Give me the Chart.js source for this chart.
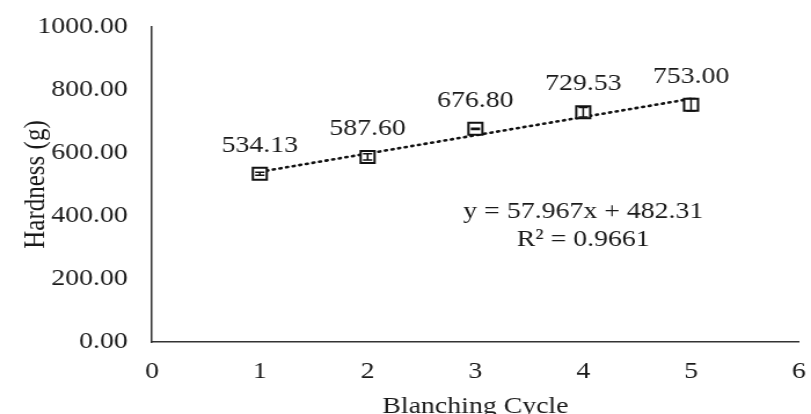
<!DOCTYPE html>
<html lang="en">
<head>
    <meta charset="UTF-8">
    <title>Hardness vs Blanching Cycle</title>
    <script src="https://cdn.jsdelivr.net/npm/chart.js"></script>
    <style>
        html, body { margin: 0; padding: 0; background: #fff; overflow: hidden; }
        #wrap { width: 811px; height: 414px; overflow: hidden; }
        /* the source figure is stretched horizontally, so draw narrower and scale up */
        #hardnessChart { transform-origin: 0 0; transform: scaleX(1.1586); }
    </style>
</head>
<body>
    <div id="wrap"><canvas id="hardnessChart" width="700" height="414"></canvas></div>
    <script>
        // Data
        const cycles = [1, 2, 3, 4, 5];
        const hardness = [534.13, 587.60, 676.80, 729.53, 753.00];
        const errors = [5, 10, 2, 15, 20];
        // Linear trendline endpoints (y = 57.967x + 482.31)
        const trendX = [1, 5];
        const trendY = [540.28, 772.15];
        const equationLines = ['y = 57.967x + 482.31', 'R\u00b2 = 0.9661'];

        const textColor = '#1a1a1a';
        const serif = "'Liberation Serif', 'Times New Roman', serif";

        // error bars + value labels + equation
        const extrasPlugin = {
            id: 'extras',
            afterDatasetsDraw(chart) {
                const ctx = chart.ctx;
                const xs = chart.scales.x, ys = chart.scales.y;
                ctx.save();
                ctx.strokeStyle = '#111';
                ctx.lineWidth = 1.5;
                cycles.forEach((c, i) => {
                    const px = xs.getPixelForValue(c);
                    const top = ys.getPixelForValue(hardness[i] + errors[i]);
                    const bot = ys.getPixelForValue(hardness[i] - errors[i]);
                    ctx.beginPath();
                    ctx.moveTo(px, top); ctx.lineTo(px, bot);
                    ctx.moveTo(px - 4, top); ctx.lineTo(px + 4, top);
                    ctx.moveTo(px - 4, bot); ctx.lineTo(px + 4, bot);
                    ctx.stroke();
                });
                ctx.fillStyle = textColor;
                ctx.font = '24px ' + serif;
                ctx.textAlign = 'center';
                ctx.textBaseline = 'middle';
                cycles.forEach((c, i) => {
                    const px = xs.getPixelForValue(c);
                    const py = ys.getPixelForValue(hardness[i]);
                    ctx.fillText(hardness[i].toFixed(2), px, py - 28);
                });
                const ex = xs.getPixelForValue(4);
                ctx.fillText(equationLines[0], ex, ys.getPixelForValue(413));
                ctx.fillText(equationLines[1], ex, ys.getPixelForValue(324));
                ctx.restore();
            }
        };

        const ctx = document.getElementById('hardnessChart').getContext('2d');
        const hardnessChart = new Chart(ctx, {
            type: 'scatter',
            data: {
                datasets: [{
                    label: 'Hardness',
                    data: cycles.map((c, i) => ({ x: c, y: hardness[i] })),
                    pointStyle: 'rect',
                    pointRadius: 8.5,
                    pointBorderWidth: 2,
                    pointBackgroundColor: '#fff',
                    pointBorderColor: '#111',
                    order: 0
                }, {
                    label: 'Trend',
                    type: 'line',
                    data: trendX.map((x, i) => ({ x: x, y: trendY[i] })),
                    borderColor: '#111',
                    borderWidth: 2.6,
                    borderDash: [1.5, 4.3],
                    borderCapStyle: 'round',
                    pointRadius: 0,
                    fill: false,
                    order: 1
                }]
            },
            options: {
                responsive: false,
                animation: false,
                layout: { padding: { top: 27, right: 8.6, left: 0, bottom: 0 } },
                plugins: {
                    legend: { display: false },
                    tooltip: { enabled: false }
                },
                scales: {
                    x: {
                        type: 'linear',
                        min: 0, max: 6,
                        ticks: { stepSize: 1, padding: 15, color: textColor, font: { family: serif, size: 24 } },
                        grid: { display: false, drawTicks: false },
                        border: { display: true, color: '#333', width: 1.5 },
                        title: { display: true, text: 'Blanching Cycle', color: textColor, font: { family: serif, size: 24, lineHeight: 0.6 }, padding: 0 },
                        afterFit(scale) { scale.height = 72; scale.paddingLeft = 0; scale.paddingRight = 0; }
                    },
                    y: {
                        min: 0, max: 1000,
                        ticks: { stepSize: 200, padding: 21, color: textColor, font: { family: serif, size: 24 },
                                 callback: v => v.toFixed(2) },
                        grid: { display: false, drawTicks: false },
                        border: { display: true, color: '#333', width: 1.5 },
                        title: { display: true, text: 'Hardness (g)', color: textColor, font: { family: serif, size: 25, lineHeight: 1 }, padding: { top: 19, bottom: 0 } },
                        afterFit(scale) { scale.width = 131.2; scale.paddingTop = 0; scale.paddingBottom = 0; }
                    }
                }
            },
            plugins: [extrasPlugin]
        });
    </script>
</body>
</html>
